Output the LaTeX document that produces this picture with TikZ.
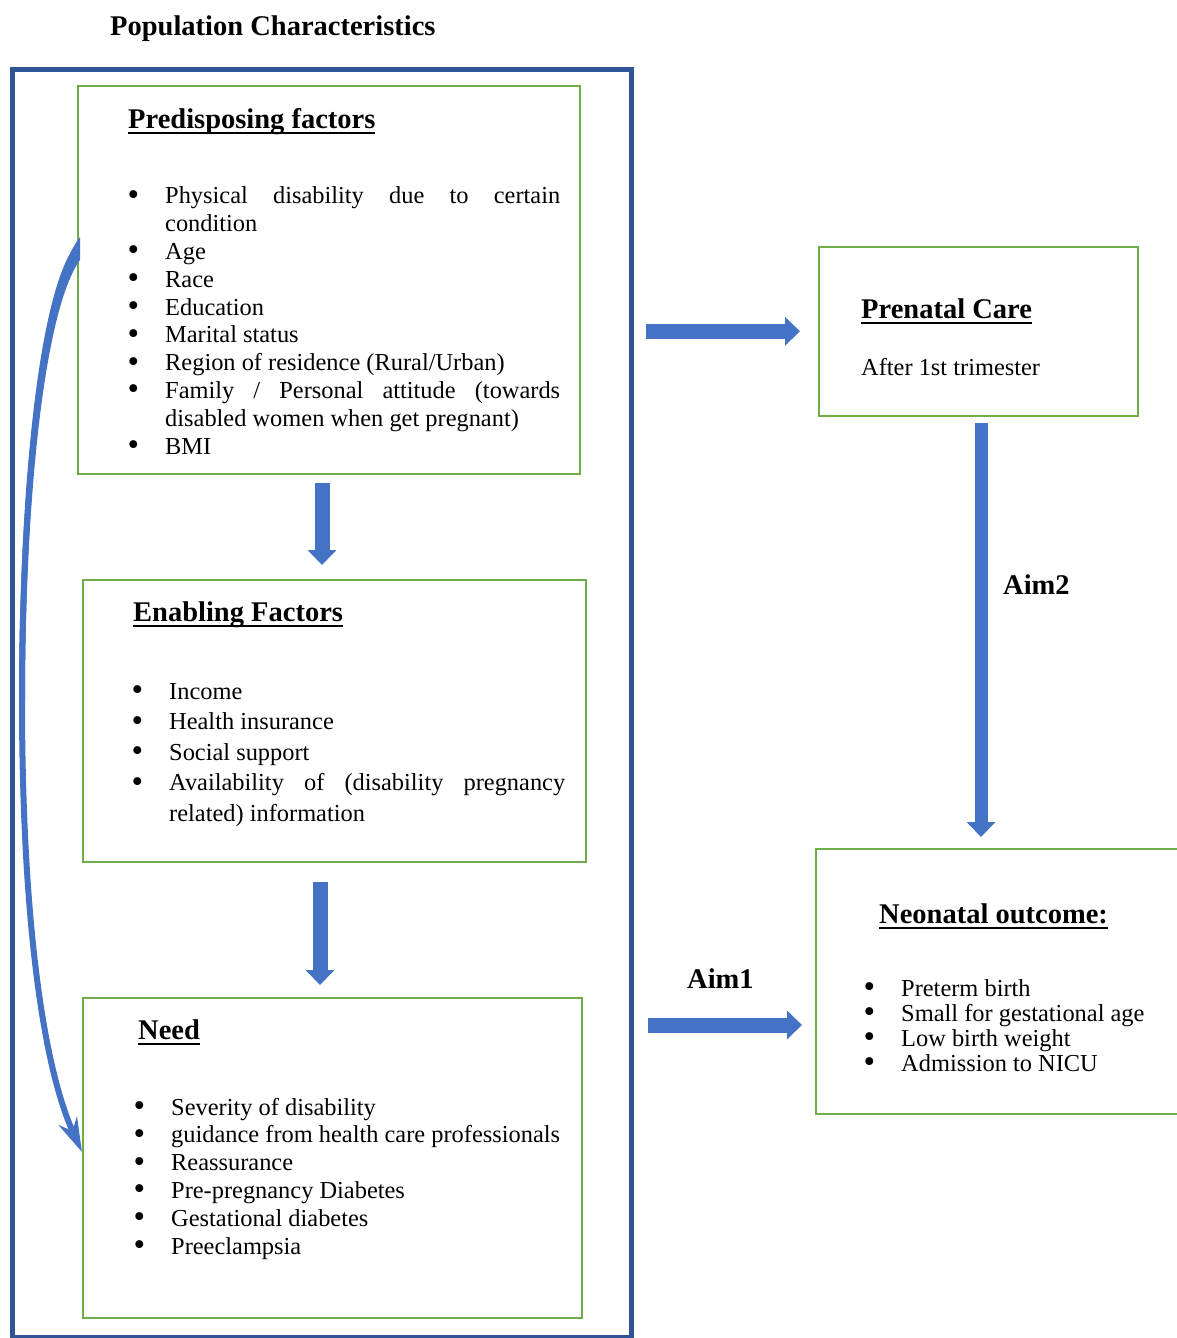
\documentclass[tikz,border=0pt]{standalone}
\usepackage{fontspec}
\setmainfont{Liberation Serif}
\usetikzlibrary{arrows.meta,calc}

\definecolor{outerblue}{HTML}{2F5597}
\definecolor{boxgreen}{HTML}{70AD47}
\definecolor{arrowblue}{HTML}{4472C4}

% underlined heading, bullet and spread line
\newcommand{\ttl}[1]{\setbox0\hbox{#1}\rlap{\rule[-6pt]{\wd0}{2pt}}\box0}
\newcommand{\bul}{\llap{\raisebox{-1.5pt}{\fontsize{33}{33}\selectfont\textbullet}\hspace{26pt}}}
\newcommand{\jline}[2]{\makebox[#1][s]{#2}}

\begin{document}
\begin{tikzpicture}[x=1pt, y=-1pt,
    gbox/.style={draw=boxgreen, line width=1.6pt, inner sep=0pt, anchor=north west},
    title/.style={font=\fontsize{28.5}{32}\selectfont\bfseries, inner sep=0pt, anchor=base west},
    body/.style={font=\fontsize{24.4}{#1}\selectfont, inner sep=0pt, anchor=base west, align=left},
    body/.default=27.8,
    fatarrow/.style={arrowblue, line width=15pt, -{Triangle[width=28pt,length=15pt]}},
    bendarrow/.style={arrowblue, line width=6pt, -{Stealth[width=20pt,length=34pt]}}]
    \useasboundingbox (0,0) rectangle (1177,1338);

    % frame and boxes
    \node[draw=outerblue, line width=5pt, inner sep=0pt, anchor=north west,
      minimum width=619pt, minimum height=1268pt] (outer) at (10,67) {};
    \node[gbox, minimum width=502pt, minimum height=388pt] (pred) at (77,85) {};
    \node[gbox, minimum width=503pt, minimum height=282pt] (enab) at (82,579) {};
    \node[gbox, minimum width=499pt, minimum height=320pt] (need) at (82,997) {};
    \node[gbox, minimum width=319pt, minimum height=169pt] (prenatal) at (818,246) {};
    \node[gbox, minimum width=370pt, minimum height=265pt] (neo) at (815,848) {};

    % headings
    \node[title] (popchar) at (110,36) {Population Characteristics};
    \node[title] (predtitle) at (128,128) {\ttl{Predisposing factors}};
    \node[title] (enabtitle) at (133,621) {\ttl{Enabling Factors}};
    \node[title] (needtitle) at (138,1039) {\ttl{Need}};
    \node[title] (pretitle) at (861,318) {\ttl{Prenatal Care}};
    \node[title] (neotitle) at (879,923) {\ttl{Neonatal outcome:}};
    \node[title] (aimtwo) at (1003,594) {Aim2};
    \node[title] (aimone) at (687,988) {Aim1};

    % lists (placed at the baseline of their last line)
    \node[body] (predlist) at (165,454) {%
      \bul\jline{395pt}{Physical disability due to certain}\\
      condition\\
      \bul Age\\
      \bul Race\\
      \bul Education\\
      \bul Marital status\\
      \bul Region of residence (Rural/Urban)\\
      \bul\jline{395pt}{Family / Personal attitude (towards}\\
      disabled women when get pregnant)\\
      \bul BMI};
    \node[body=30.5] (enablist) at (169,821) {%
      \bul Income\\
      \bul Health insurance\\
      \bul Social support\\
      \bul\jline{396pt}{Availability of (disability pregnancy}\\
      related) information};
    \node[body] (needlist) at (171,1254) {%
      \bul Severity of disability\\
      \bul guidance from health care professionals\\
      \bul Reassurance\\
      \bul Pre-pregnancy Diabetes\\
      \bul Gestational diabetes\\
      \bul Preeclampsia};
    \node[body] (pretext) at (861,375) {After 1st trimester};
    \node[body=25] (neolist) at (901,1071) {%
      \bul Preterm birth\\
      \bul Small for gestational age\\
      \bul Low birth weight\\
      \bul Admission to NICU};

    % arrows
    \coordinate (da) at (322,473);
    \coordinate (db) at (320,861);
    \draw[fatarrow, shorten <=10pt, shorten >=14pt] (da) -- (da |- enab.north);
    \draw[fatarrow, shorten <=21pt, shorten >=12pt] (db) -- (db |- need.north);
    \draw[fatarrow, shorten <=12pt, shorten >=18pt] (outer.east |- prenatal.west) -- (prenatal.west);
    \coordinate (aimstart) at (outer.east |- 0,1025);
    \draw[fatarrow, shorten <=14pt, shorten >=13pt] (aimstart) -- (aimstart -| neo.west);
    \coordinate (dc) at (981,415);
    \draw[fatarrow, line width=13pt, shorten <=8pt, shorten >=11pt] (dc) -- (dc |- neo.north);

    % curved arrow from predisposing to need
    \coordinate (cs) at (pred.west |- 0,248);
    \coordinate (cm) at (22,700);
    \coordinate (ce) at (82,1152);
    \fill[arrowblue] (80,237) .. controls (38,292) and (19,500) .. (19,700)
      -- (25,700) .. controls (25,500) and (44,310) .. (80,260) -- cycle;
    \draw[bendarrow] (cs) .. controls (40,300) and (22,500) .. (cm)
      .. controls (22,900) and (40,1060) .. (ce);
\end{tikzpicture}
\end{document}
